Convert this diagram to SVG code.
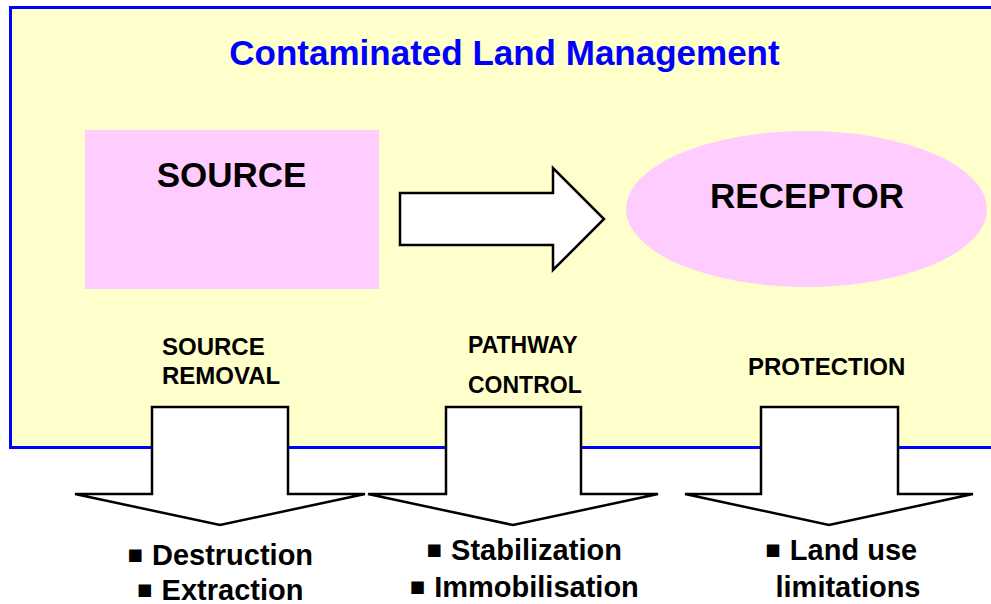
<svg xmlns="http://www.w3.org/2000/svg" width="991" height="604" viewBox="0 0 991 604">
<style>
text{font-family:"Liberation Sans",Arial,sans-serif;font-weight:bold;fill:#000}
.title{fill:#0000FF;font-size:35px}
.big{font-size:35px}
.lbl{font-size:24px}
.lbl2{font-size:23px}
.item{font-size:29px}
.blt{font-family:"DejaVu Sans",sans-serif;font-size:25px}
.arrow{fill:#FFFFFF;stroke:#000;stroke-width:2.5;stroke-linejoin:miter}
.pink{fill:#FFCCFF}
</style>
<rect id="frame" x="10.5" y="7.5" width="1000" height="440" fill="#FFFFCC" stroke="#0000FF" stroke-width="3"/>
<text class="title" x="504.5" y="65" text-anchor="middle">Contaminated Land Management</text>
<g id="source">
<rect class="pink" x="85" y="130" width="294" height="159"/>
<text class="big" x="231.5" y="187" text-anchor="middle">SOURCE</text>
</g>
<g id="receptor">
<ellipse class="pink" cx="806.5" cy="209" rx="180.5" ry="78"/>
<text class="big" x="807" y="208" text-anchor="middle">RECEPTOR</text>
</g>
<g id="connectors">
<polygon id="pathway-arrow" class="arrow" points="400,193 553,193 553,168 604,219 553,270 553,245 400,245"/>
<polygon id="arrow-removal" class="arrow" points="152,407 288,407 288,494 365,494 220,525 75,494 152,494"/>
<polygon id="arrow-control" class="arrow" points="446,407 581,407 581,494 658,494 513,525 368,494 446,494"/>
<polygon id="arrow-protection" class="arrow" points="761,407 898,407 898,494 973,494 829,525 685,494 761,494"/>
</g>
<g id="removal">
<text class="lbl" x="162" y="355">SOURCE</text>
<text class="lbl" x="162" y="384">REMOVAL</text>
<text class="item" x="220" y="565" text-anchor="middle"><tspan class="blt" baseline-shift="3px">▪</tspan> Destruction</text>
<text class="item" x="220" y="600" text-anchor="middle"><tspan class="blt" baseline-shift="3px">▪</tspan> Extraction</text>
</g>
<g id="control">
<text class="lbl2" x="468" y="353">PATHWAY</text>
<text class="lbl2" x="468" y="393">CONTROL</text>
<text class="item" x="524" y="560" text-anchor="middle"><tspan class="blt" baseline-shift="3px">▪</tspan> Stabilization</text>
<text class="item" x="524" y="597" text-anchor="middle"><tspan class="blt" baseline-shift="3px">▪</tspan> Immobilisation</text>
</g>
<g id="protection">
<text class="lbl" x="748" y="375">PROTECTION</text>
<text class="item" x="841" y="560" text-anchor="middle"><tspan class="blt" baseline-shift="3px">▪</tspan> Land use</text>
<text class="item" x="848" y="597" text-anchor="middle">limitations</text>
</g>
</svg>
